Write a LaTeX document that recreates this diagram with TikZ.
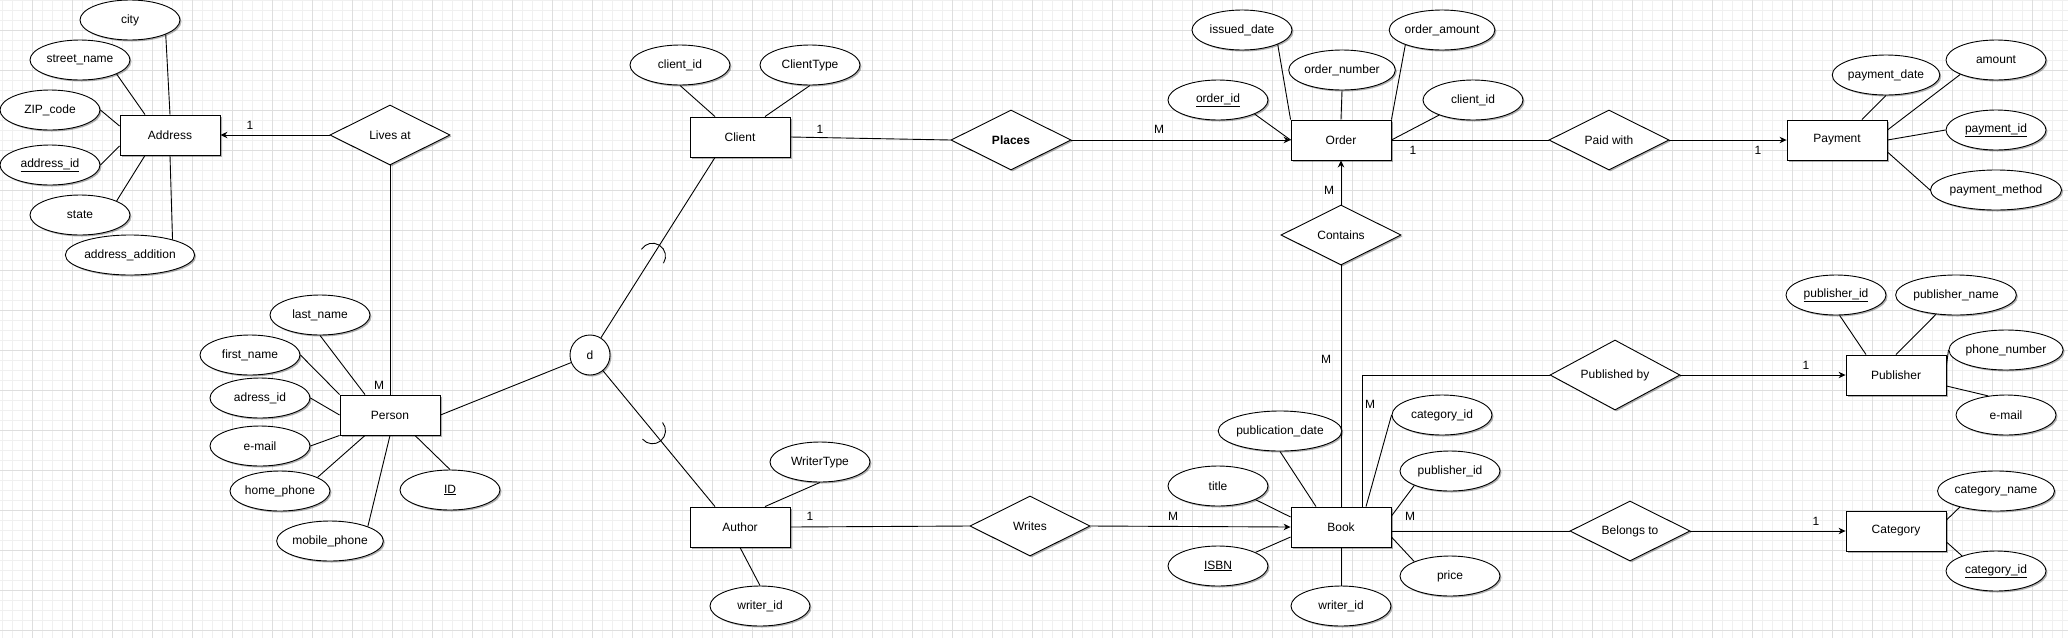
\documentclass[tikz,border=0pt]{standalone}
\usepackage{fontspec}
\setmainfont{Liberation Sans}
\usetikzlibrary{shapes.geometric,arrows.meta,calc,shadows}
\definecolor{minorg}{HTML}{F0F0F0}
\definecolor{majorg}{HTML}{DEDEDE}
\begin{document}
\begin{tikzpicture}[x=1pt,y=-1pt,
  every node/.style={font=\fontsize{12}{14}\selectfont},
  base/.style={draw, fill=white, line width=0.9pt, inner sep=0pt,
    drop shadow={shadow xshift=1.5pt, shadow yshift=-1.5pt, opacity=0.3, fill=black}},
  ent/.style={base, rectangle, minimum width=100pt, minimum height=40pt},
  attr/.style={base, ellipse, minimum width=100pt, minimum height=40pt},
  rel/.style={base, diamond, aspect=2, minimum width=120pt, minimum height=60pt},
  lnk/.style={line width=0.9pt},
  arr/.style={lnk, -{Stealth[length=7pt,width=6.5pt]}},
  card/.style={inner sep=0pt},
  mingrid/.style={draw=minorg, line width=0.8pt},
  majgrid/.style={draw=majorg, line width=0.8pt}]
\useasboundingbox (0,0) rectangle (2068,638);
\fill[white] (0,0) rectangle (2068,638);
% grid
\foreach \x in {2,12,...,2062} \draw[mingrid] (\x,0) -- (\x,638);
\foreach \y in {0,10,...,630} \draw[mingrid] (0,\y) -- (2068,\y);
\foreach \x in {32,72,...,2052} \draw[majgrid] (\x,0) -- (\x,638);
\foreach \y in {30,70,...,630} \draw[majgrid] (0,\y) -- (2068,\y);

% entities
\node[ent] (addr) at (170,135) {Address};
\node[ent] (person) at (390,415) {Person};
\node[ent] (client) at (740,137) {Client};
\node[ent] (author) at (740,527) {Author};
\node[ent] (order) at (1341,140) {Order};
\node[ent] (payment) at (1837,140) {Payment};
\node[ent] (book) at (1341,527) {Book};
\node[ent] (publisher) at (1896,375) {Publisher};
\node[ent] (category) at (1896,531) {Category};

% relationships
\node[rel] (livesat) at (390,135) {Lives at};
\node[rel, font=\fontsize{12}{14}\selectfont\bfseries] (places) at (1011,140) {Places};
\node[rel] (paidwith) at (1609,140) {Paid with};
\node[rel] (contains) at (1341,235) {Contains};
\node[rel] (writes) at (1030,526) {Writes};
\node[rel, minimum width=130pt, minimum height=70pt] (publishedby) at (1615,375) {Published by};
\node[rel] (belongsto) at (1630,531) {Belongs to};

% disjoint circle
\node[base, circle, minimum size=40pt] (dd) at (590,355) {d};

% attributes: Address
\node[attr] (city) at (130,20) {city};
\node[attr] (street) at (80,60) {street\_name};
\node[attr] (zip) at (50,110) {ZIP\_code};
\node[attr] (addrid) at (50,165) {\underline{address\_id}};
\node[attr] (state) at (80,215) {state};
\node[attr] (addradd) at (130,255) {address\_addition};
% Person
\node[attr] (lastname) at (320,315) {last\_name};
\node[attr] (firstname) at (250,355) {first\_name};
\node[attr] (adressid) at (260,398) {adress\_id};
\node[attr] (pemail) at (260,446) {e-mail};
\node[attr] (homephone) at (280,491) {home\_phone};
\node[attr] (mobile) at (330,541) {mobile\_phone};
\node[attr] (pid) at (450,490) {\underline{ID}};
% Client
\node[attr] (clientid) at (680,65) {client\_id};
\node[attr] (clienttype) at (810,65) {ClientType};
% Author
\node[attr] (writertype) at (820,462) {WriterType};
\node[attr] (awriterid) at (760,606) {writer\_id};
% Order
\node[attr] (issued) at (1242,30) {issued\_date};
\node[attr] (ordernum) at (1342,70) {order\_number};
\node[attr] (orderamt) at (1442,30) {order\_amount};
\node[attr] (orderid) at (1218,100) {\underline{order\_id}};
\node[attr] (oclientid) at (1473,100) {client\_id};
% Payment
\node[attr] (paydate) at (1886,75) {payment\_date};
\node[attr] (amount) at (1996,60) {amount};
\node[attr] (payid) at (1996,130) {\underline{payment\_id}};
\node[attr] (paymethod) at (1996,190) {payment\_method};
% Book
\node[attr] (pubdate) at (1280,431) {publication\_date};
\node[attr] (title) at (1218,486) {title};
\node[attr] (isbn) at (1218,566) {\underline{ISBN}};
\node[attr] (bwriterid) at (1341,606) {writer\_id};
\node[attr] (bcatid) at (1442,415) {category\_id};
\node[attr] (bpubid) at (1450,471) {publisher\_id};
\node[attr] (price) at (1450,576) {price};
% Publisher
\node[attr] (ppubid) at (1836,295) {\underline{publisher\_id}};
\node[attr] (pubname) at (1956,295) {publisher\_name};
\node[attr] (phone) at (2006,350) {phone\_number};
\node[attr] (pubemail) at (2006,415) {e-mail};
% Category
\node[attr] (catname) at (1996,491) {category\_name};
\node[attr] (catid) at (1996,571) {\underline{category\_id}};

% relationship connectors
\draw[arr] (livesat.west) -- (addr.east);
\draw[lnk] (livesat.south) -- (person.north);
\draw[lnk] (client.east) -- (places.west);
\draw[arr] (places.east) -- (order.west);
\draw[lnk] (order.east) -- (paidwith.west);
\draw[arr] (paidwith.east) -- (payment.west);
\draw[arr] (contains.north) -- (order.south);
\draw[lnk] (contains.south) -- (book.north);
\draw[lnk] (author.east) -- (writes.west);
\draw[arr] (writes.east) -- (book.west);
\draw[lnk] ($(book.north)+(21,0)$) |- (publishedby.west);
\draw[arr] (publishedby.east) -- (publisher.west);
\draw[lnk] (book.east |- belongsto.west) -- (belongsto.west);
\draw[arr] (belongsto.east) -- (category.west);

% specialization
\coordinate (cl) at ($(client.south)+(-25,0)$);
\coordinate (al) at ($(author.north)+(-25,0)$);
\draw[lnk] (person.east) -- (dd);
\draw[lnk] (dd) -- (cl);
\draw[lnk] (dd) -- (al);
\coordinate (s1) at ($(dd)!0.5!(cl)$);
\coordinate (s2) at ($(dd)!0.5!(al)$);
\draw[lnk] ([shift={(-32.3:13pt)}]s1) arc[start angle=-32.3, end angle=147.7, radius=13pt];
\draw[lnk] ([shift={(-140.4:13pt)}]s2) arc[start angle=-140.4, end angle=39.6, radius=13pt];

% attribute connectors: Address
\draw[lnk] (city.-22) -- (addr.north);
\draw[lnk] (street.-21) -- ($(addr.north)+(-25,0)$);
\draw[lnk] (zip.east) -- ($(addr.west)+(0,-9)$);
\draw[lnk] (addrid.east) -- ($(addr.west)+(0,11)$);
\draw[lnk] (state.21) -- ($(addr.south)+(-25,0)$);
\draw[lnk] (addradd.20) -- (addr.south);
% Person
\draw[lnk] (lastname.south) -- ($(person.north)+(-25,0)$);
\draw[lnk] (firstname.east) -- (person.north west);
\draw[lnk] (adressid.east) -- (person.west);
\draw[lnk] (pemail.east) -- (person.south west);
\draw[lnk] (homephone.20) -- ($(person.south)+(-25,0)$);
\draw[lnk] (mobile.21) -- (person.south);
\draw[lnk] (pid.north) -- ($(person.south)+(25,0)$);
% Client
\draw[lnk] (clientid.south) -- ($(client.north)+(-25,0)$);
\draw[lnk] (clienttype.south) -- ($(client.north)+(25,0)$);
% Author
\draw[lnk] (writertype.south) -- ($(author.north)+(25,0)$);
\draw[lnk] (awriterid.north) -- (author.south);
% Order
\draw[lnk] (orderid.-21) -- (order.west);
\draw[lnk] (issued.-22) -- (order.north west);
\draw[lnk] (ordernum.south) -- (order.north);
\draw[lnk] (orderamt.-158) -- (order.north east);
\draw[lnk] (oclientid.-156) -- (order.east);
% Payment
\draw[lnk] (paydate.south) -- ($(payment.north)+(25,0)$);
\draw[lnk] (amount.-158) -- ($(payment.east)+(0,-10)$);
\draw[lnk] (payid.west) -- (payment.east);
\draw[lnk] (paymethod.west) -- ($(payment.east)+(0,12)$);
% Book
\draw[lnk] (pubdate.south) -- ($(book.north)+(-25,0)$);
\draw[lnk] (title.-20) -- ($(book.west)+(0,-10)$);
\draw[lnk] (isbn.20) -- ($(book.west)+(0,10)$);
\draw[lnk] (bwriterid.north) -- (book.south);
\draw[lnk] (bcatid.west) -- ($(book.north)+(25,0)$);
\draw[lnk] (bpubid.-158) -- ($(book.east)+(0,-11)$);
\draw[lnk] (price.158) -- ($(book.east)+(0,10)$);
% Publisher
\draw[lnk] (ppubid.-80) -- ($(publisher.north)+(-30,0)$);
\draw[lnk] (pubname.-136) -- (publisher.north);
\draw[lnk] (phone.west) -- ($(publisher.east)+(0,-10)$);
\draw[lnk] (pubemail.133) -- ($(publisher.east)+(0,11)$);
% Category
\draw[lnk] (catname.-156) -- ($(category.east)+(0,-11)$);
\draw[lnk] (catid.156) -- ($(category.east)+(0,11)$);

% cardinalities
\node[card] (c1) at (250,125) {1};
\node[card] (c2) at (379,385) {M};
\node[card] (c3) at (820,129) {1};
\node[card] (c4) at (1159,129) {M};
\node[card] (c5) at (1413,150) {1};
\node[card] (c6) at (1758,150) {1};
\node[card] (c7) at (1329,190) {M};
\node[card] (c8) at (1326,359) {M};
\node[card] (c9) at (810,516) {1};
\node[card] (c10) at (1173,516) {M};
\node[card] (c11) at (1370,404) {M};
\node[card] (c12) at (1806,365) {1};
\node[card] (c13) at (1410,516) {M};
\node[card] (c14) at (1816,521) {1};
\end{tikzpicture}
\end{document}
